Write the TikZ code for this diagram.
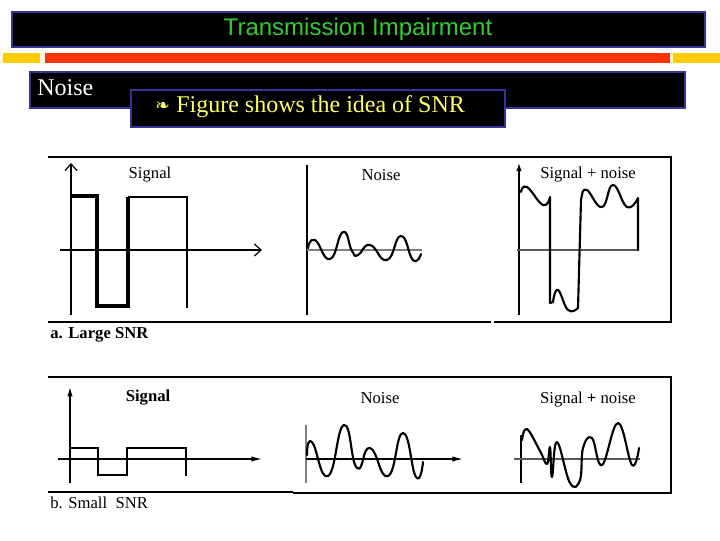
\documentclass[tikz,border=0pt]{standalone}
\usepackage{fontspec}
\setmainfont{Liberation Serif}
\newfontfamily\titlefont{Liberation Sans}
\newfontfamily\symbfont{DejaVu Sans}
\usepackage{xcolor}
\usetikzlibrary{arrows.meta, positioning}

\definecolor{frameblue}{HTML}{333399}
\definecolor{titlegreen}{HTML}{33CC33}
\definecolor{textyellow}{HTML}{FFFF66}
\definecolor{barred}{HTML}{FF3300}
\definecolor{baryellow}{HTML}{FFCC00}

\begin{document}
\begin{tikzpicture}[
    x=0.75pt, y=-0.75pt,
    slidebox/.style={fill=black, draw=frameblue, line width=2.2pt},
    panel/.style={line width=1.5pt},
    axis/.style={line width=0.9pt},
    wave/.style={line width=1.6pt, line join=round, line cap=round},
    lbl/.style={font=\fontsize{12.5}{14}\selectfont, inner sep=0pt},
    caption/.style={font=\fontsize{12.5}{15}\selectfont, anchor=west, inner sep=0pt},
    slidetext/.style={font=\fontsize{18}{20}\selectfont, anchor=west, inner sep=0pt},
]
\useasboundingbox[fill=white] (0,0) rectangle (720,540);

% Titolo
\draw[slidebox] (12,12) rectangle (705,47);
\node[font=\titlefont\fontsize{18}{20}\selectfont, text=titlegreen] (title) at (358,29.5)
    {Transmission Impairment};

% Barre
\fill[baryellow] (3,53) rectangle (40,63);
\fill[barred] (45,53) rectangle (670,63);
\fill[baryellow] (673,53) rectangle (720,63);

% Riquadri di testo
\draw[slidebox] (30,72) rectangle (685,108);
\node[slidetext, text=white] (noise) at (37,88) {Noise};
\draw[slidebox] (131,90) rectangle (505,127);
\node[anchor=west, inner sep=0pt, text=textyellow, font=\symbfont\fontsize{13}{15}\selectfont]
    (bullet) at (155,107) {❧};
\node[slidetext, text=textyellow] (snr) at (176,107) {Figure shows the idea of SNR};

%% PANNELLO A
\draw[panel] (48,157) -- (671,157) -- (671,322) -- (494,322);
\draw[panel] (491,322) -- (48,322) -- cycle;

% Segnale
\draw[axis, -{Straight Barb[length=5pt, width=9pt]}] (71,315) -- (71,163);
\draw[axis, -{Straight Barb[length=5pt, width=9pt]}] (60,250) -- (262,250);
\draw[line width=2.4pt] (71,196) -- (97,196) -- (97,306) -- (128,306) -- (128,197);
\draw[line width=1.7pt] (128,197) -- (187,197) -- (187,308);
\node[lbl] (siga) at (150,175) {Signal};

% Rumore
\draw[line width=1.3pt] (307,165) -- (307,315);
\draw[gray, line width=1.5pt] (307,250) -- (422,250);
\draw[wave] plot[smooth, tension=0.9] coordinates {(308,248) (315,240) (330,259) (343,232)
    (352,251) (358,255) (370,245) (387,260) (401,236) (413,260) (421,254)};
\node[lbl] (noisea) at (381,175) {Noise};

% Segnale + rumore
\draw[axis, -{Latex[length=6pt, width=4pt]}] (519,315) -- (519,163);
\draw[gray!70!black, line width=1.3pt] (517,250) -- (639,250);
\draw[wave] plot[smooth, tension=0.8] coordinates {(521,192) (527,187) (543,205) (550,197)}
    -- (550,303)
    -- plot[smooth, tension=0.8] coordinates {(553,302) (558,290) (568,310) (578,308)}
    -- (581,200)
    -- plot[smooth, tension=0.8] coordinates {(582,195) (587,190) (602,207)
        (613,185) (627,207) (638,198)}
    -- (638,250);
\node[lbl] (suma) at (588,175) {Signal + noise};

\node[caption, font=\fontsize{12.5}{15}\selectfont\bfseries] (capa) at (50,335) {a. Large SNR};

%% PANNELLO B
\draw[panel] (48,377) -- (671,377) -- (671,493) -- (293,493);
\draw[panel] (293,492) -- (48,492) -- cycle;

% Segnale
\draw[axis, -{Latex[length=7pt, width=4pt]}] (70,483) -- (70,387);
\draw[axis, -{Latex[length=8pt, width=4pt]}] (58,459) -- (262,459);
\draw[line width=1.2pt] (70,448) -- (98,448) -- (98,475) -- (127,475) -- (127,448)
    -- (186,448) -- (186,476);
\node[lbl, font=\fontsize{12.5}{14}\selectfont\bfseries] (sigb) at (148,398) {Signal};

% Rumore
\draw[gray, line width=1.5pt] (306,425) -- (306,483);
\draw[axis, -{Latex[length=8pt, width=4pt]}] (306,459) -- (463,459);
\draw[wave] plot[smooth, tension=0.9] coordinates {(307,455) (312,442) (328,476) (344,425)
    (357,468) (370,448) (388,476) (403,433) (416,477) (423,462)};
\node[lbl] (noiseb) at (380,398) {Noise};

% Segnale + rumore
\draw[axis] (521,435) -- (521,483);
\draw[gray!70!black, line width=1.2pt] (514,459) -- (640,459);
\draw[wave] plot[smooth, tension=0.7] coordinates {(522,440) (527,429) (540,451)
    (547,464) (550,447) (552,477) (557,442) (570,483) (580,480) (583,448)
    (592,438) (602,465) (618,423) (632,465) (639,448)};
\node[lbl] (sumb) at (588,400) {Signal \textbf{+} noise};

\node[caption] (capb) at (50,503) {b. Small\ \ SNR};
\end{tikzpicture}
\end{document}
